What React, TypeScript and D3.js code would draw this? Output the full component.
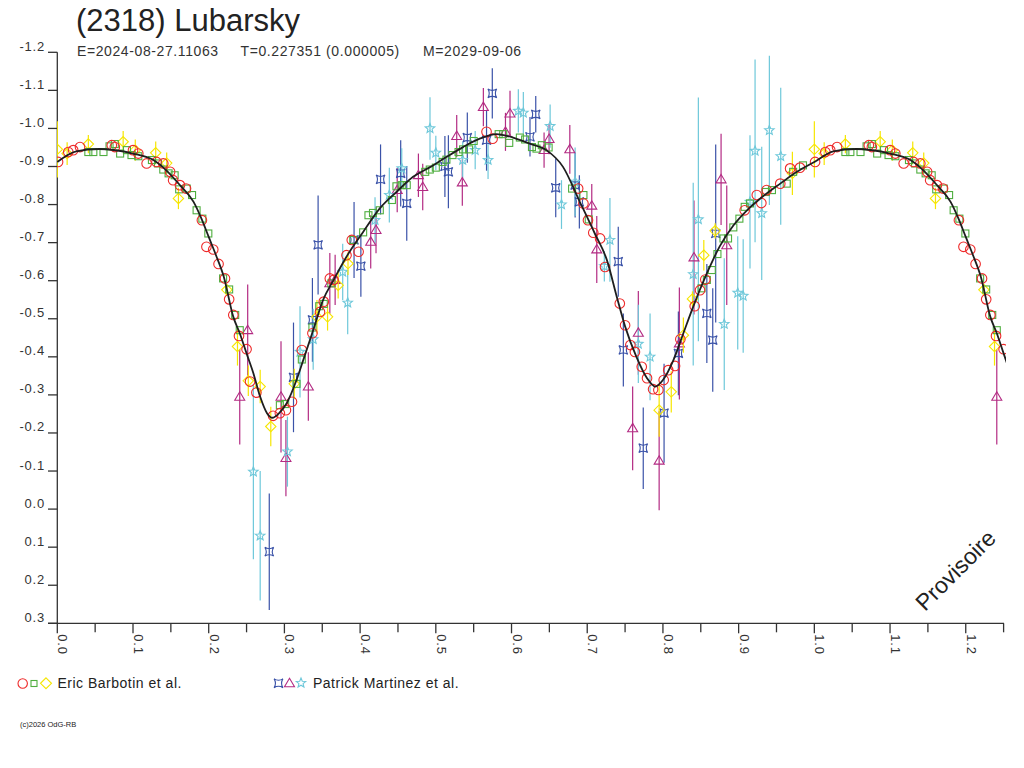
import React from 'react';
import * as d3 from 'd3';

// ---------- data (phase, magnitude[, error]) ----------
const fitCurve: [number, number][] = [
  [0.000,-0.912],[0.025,-0.940],[0.055,-0.946],[0.100,-0.934],[0.127,-0.917],[0.144,-0.890],
  [0.162,-0.851],[0.180,-0.807],[0.190,-0.765],[0.200,-0.715],[0.210,-0.665],[0.220,-0.610],
  [0.2325,-0.505],[0.241,-0.462],[0.250,-0.409],[0.259,-0.357],[0.268,-0.295],[0.277,-0.252],
  [0.284,-0.240],[0.293,-0.252],[0.303,-0.278],[0.316,-0.339],[0.325,-0.392],[0.338,-0.470],
  [0.351,-0.549],[0.365,-0.602],[0.382,-0.663],[0.404,-0.728],[0.426,-0.790],[0.448,-0.833],
  [0.470,-0.873],[0.493,-0.899],[0.514,-0.925],[0.536,-0.951],[0.558,-0.973],[0.580,-0.985],
  [0.602,-0.976],[0.624,-0.960],[0.646,-0.943],[0.668,-0.899],[0.690,-0.808],[0.710,-0.724],
  [0.726,-0.654],[0.739,-0.558],[0.750,-0.480],[0.765,-0.400],[0.779,-0.344],[0.790,-0.322],
  [0.800,-0.339],[0.814,-0.392],[0.827,-0.462],[0.840,-0.532],[0.858,-0.619],[0.875,-0.690],
  [0.893,-0.745],[0.911,-0.785],[0.930,-0.818],[0.955,-0.855],[0.977,-0.886],
];

const barbotinCircles: [number, number][] = [
  [0.001,-0.912],[0.0145,-0.938],[0.021,-0.943],[0.030,-0.951],[0.072,-0.956],[0.076,-0.951],
  [0.100,-0.943],[0.107,-0.934],[0.118,-0.908],[0.131,-0.912],[0.140,-0.908],[0.149,-0.886],
  [0.153,-0.864],[0.162,-0.851],[0.170,-0.842],[0.191,-0.759],[0.197,-0.689],[0.206,-0.682],
  [0.213,-0.644],[0.2215,-0.606],[0.227,-0.551],[0.2325,-0.510],[0.240,-0.455],[0.250,-0.420],
  [0.2546,-0.335],[0.263,-0.306],[0.285,-0.245],[0.294,-0.252],[0.302,-0.260],[0.310,-0.282],
  [0.323,-0.418],[0.337,-0.462],[0.347,-0.518],[0.352,-0.545],[0.360,-0.606],[0.365,-0.602],
  [0.382,-0.667],[0.389,-0.707],[0.398,-0.676],[0.567,-0.991],[0.575,-0.973],[0.688,-0.842],
  [0.695,-0.803],[0.701,-0.759],[0.708,-0.726],[0.717,-0.711],[0.7235,-0.636],[0.743,-0.540],
  [0.750,-0.483],[0.757,-0.431],[0.763,-0.413],[0.772,-0.374],[0.779,-0.344],[0.787,-0.315],
  [0.794,-0.313],[0.801,-0.339],[0.807,-0.365],[0.816,-0.376],[0.823,-0.446],[0.842,-0.533],
  [0.849,-0.575],[0.856,-0.603],[0.908,-0.785],[0.924,-0.825],[0.930,-0.804],[0.937,-0.838],
  [0.955,-0.855],[0.968,-0.895],[0.981,-0.897],
];

const barbotinSquares: [number, number][] = [
  [0.041,-0.938],[0.0476,-0.938],[0.061,-0.938],[0.069,-0.953],[0.076,-0.959],[0.083,-0.934],
  [0.092,-0.943],[0.098,-0.930],[0.107,-0.927],[0.125,-0.917],[0.133,-0.908],[0.140,-0.892],
  [0.147,-0.882],[0.155,-0.877],[0.161,-0.840],[0.171,-0.842],[0.178,-0.825],[0.184,-0.785],
  [0.1916,-0.763],[0.1995,-0.724],[0.219,-0.606],[0.227,-0.577],[0.235,-0.510],[0.241,-0.470],
  [0.294,-0.273],[0.301,-0.276],[0.316,-0.329],[0.323,-0.393],[0.337,-0.477],[0.346,-0.533],
  [0.352,-0.539],[0.362,-0.593],[0.391,-0.707],[0.404,-0.727],[0.411,-0.772],[0.417,-0.778],
  [0.426,-0.785],[0.442,-0.812],[0.448,-0.848],[0.455,-0.851],[0.4616,-0.851],[0.486,-0.886],
  [0.492,-0.892],[0.500,-0.897],[0.509,-0.912],[0.514,-0.918],[0.522,-0.930],[0.530,-0.938],
  [0.536,-0.945],[0.544,-0.945],[0.550,-0.967],[0.583,-0.985],[0.589,-0.985],[0.597,-0.962],
  [0.611,-0.976],[0.618,-0.971],[0.627,-0.951],[0.633,-0.947],[0.640,-0.956],[0.649,-0.950],
  [0.680,-0.842],[0.695,-0.825],[0.702,-0.761],[0.851,-0.580],[0.858,-0.602],[0.8645,-0.628],
  [0.872,-0.670],[0.880,-0.711],[0.886,-0.711],[0.893,-0.740],[0.901,-0.763],[0.908,-0.794],
  [0.915,-0.803],[0.936,-0.833],[0.944,-0.838],[0.9635,-0.855],[0.972,-0.886],[0.985,-0.903],
];

const barbotinDiamonds: [number, number, number][] = [
  [0.000,-0.945,0.074],[0.013,-0.934,0.030],[0.041,-0.959,0.024],[0.087,-0.965,0.028],
  [0.103,-0.943,0.028],[0.130,-0.936,0.030],[0.1445,-0.909,0.028],[0.160,-0.816,0.028],
  [0.224,-0.576,0.015],[0.238,-0.427,0.050],[0.2523,-0.337,0.040],[0.268,-0.322,0.044],
  [0.282,-0.217,0.052],[0.313,-0.329,0.040],[0.343,-0.505,0.044],[0.357,-0.505,0.036],
  [0.371,-0.588,0.035],[0.384,-0.645,0.030],[0.795,-0.260,0.070],[0.811,-0.308,0.054],
  [0.827,-0.457,0.046],[0.839,-0.552,0.020],[0.854,-0.667,0.040],[0.869,-0.731,0.020],
  [0.971,-0.882,0.057],
];

const martinezQuads: [number, number, number][] = [
  [0.280,0.112,0.153],[0.312,-0.346,0.144],[0.337,-0.497,0.110],[0.3445,-0.694,0.130],
  [0.392,-0.707,0.100],[0.401,-0.638,0.080],[0.427,-0.866,0.092],[0.4536,-0.882,0.087],
  [0.4616,-0.803,0.098],[0.512,-0.900,0.080],[0.5166,-0.886,0.096],[0.5416,-0.976,0.066],
  [0.567,-0.969,0.080],[0.5746,-1.092,0.066],[0.6244,-0.978,0.052],[0.632,-1.037,0.048],
  [0.6584,-0.844,0.077],[0.684,-0.851,0.085],[0.6896,-0.807,0.070],[0.741,-0.650,0.092],
  [0.7477,-0.418,0.096],[0.774,-0.160,0.107],[0.8015,-0.252,0.130],[0.8204,-0.409,0.110],
  [0.858,-0.514,0.130],[0.8658,-0.444,0.136],[0.8697,-0.724,0.234],
];

const martinezTriangles: [number, number, number][] = [
  [0.241,-0.295,0.125],[0.2515,-0.470,0.120],[0.2955,-0.295,0.146],[0.302,-0.134,0.100],
  [0.3316,-0.322,0.090],[0.360,-0.593,0.080],[0.367,-0.602,0.066],[0.414,-0.702,0.070],
  [0.421,-0.733,0.061],[0.449,-0.838,0.058],[0.477,-0.877,0.057],[0.4827,-0.846,0.061],
  [0.5276,-0.980,0.055],[0.535,-0.858,0.061],[0.5628,-1.056,0.050],[0.592,-0.991,0.050],
  [0.598,-1.039,0.060],[0.643,-0.943,0.046],[0.6496,-0.972,0.040],[0.677,-0.945,0.064],
  [0.706,-0.797,0.057],[0.7126,-0.682,0.088],[0.760,-0.212,0.110],[0.7675,-0.463,0.110],
  [0.795,-0.127,0.130],[0.8217,-0.435,0.147],[0.841,-0.661,0.150],[0.8768,-0.866,0.120],
  [0.8843,-0.693,0.157],
];

const martinezStars: [number, number, number][] = [
  [0.259,-0.098,0.230],[0.268,0.070,0.170],[0.304,-0.151,0.092],[0.3206,-0.413,0.120],
  [0.338,-0.446,0.080],[0.377,-0.623,0.074],[0.3836,-0.542,0.083],[0.4197,-0.759,0.060],
  [0.4386,-0.825,0.072],[0.455,-0.895,0.053],[0.4923,-1.000,0.082],[0.500,-0.936,0.045],
  [0.5355,-0.917,0.048],[0.552,-0.943,0.050],[0.569,-0.917,0.050],[0.609,-1.046,0.057],
  [0.6156,-1.041,0.055],[0.651,-1.006,0.057],[0.666,-0.800,0.064],[0.684,-0.860,0.090],
  [0.7226,-0.638,0.040],[0.730,-0.707,0.110],[0.7675,-0.434,0.103],[0.783,-0.400,0.114],
  [0.840,-0.617,0.240],[0.8468,-0.761,0.320],[0.881,-0.486,0.173],[0.8988,-0.568,0.149],
  [0.906,-0.560,0.149],[0.915,-0.807,0.175],[0.9217,-0.941,0.240],[0.9305,-0.777,0.175],
  [0.9406,-0.995,0.196],[0.9556,-0.927,0.180],
];

const yTicks: number[] = [-1.2,-1.1,-1.0,-0.9,-0.8,-0.7,-0.6,-0.5,-0.4,-0.3,-0.2,-0.1,0.0,0.1,0.2,0.3];
const xMajorTicks: number[] = [0,0.1,0.2,0.3,0.4,0.5,0.6,0.7,0.8,0.9,1.0,1.1,1.2];
const xMinorTicks: number[] = [0.05,0.15,0.25,0.35,0.45,0.55,0.65,0.75,0.85,0.95,1.05,1.15,1.25];

const title = '(2318) Lubarsky';
const subtitleParts = ['E=2024-08-27.11063', 'T=0.227351 (0.000005)', 'M=2029-09-06'];
const legendLeft = 'Eric Barbotin et al.';
const legendRight = 'Patrick Martinez et al.';
const copyright = '(c)2026 OdG-RB';
const watermark = 'Provisoire';

// ---------- styling ----------
const FONT = '"Liberation Sans", Arial, sans-serif';
const RED = '#ee2a2a';
const GREEN = '#4fae3f';
const YELLOW = '#f6e600';
const BLUE = '#3a52a8';
const MAGENTA = '#b32b83';
const CYAN = '#6ec8da';

const x = d3.scaleLinear().domain([0, 1.25]).range([57.3, 1003.6]);
const y = d3.scaleLinear().domain([-1.2, 0.3]).range([52.3, 623.3]);

function wrap<T extends number[]>(pts: T[]): T[] {
  const out: T[] = [];
  pts.forEach((p) => {
    out.push(p);
    if (p[0] + 1 <= 1.251) out.push([p[0] + 1, ...p.slice(1)] as T);
  });
  return out;
}

function wrapCurve(pts: [number, number][]): [number, number][] {
  const out: [number, number][] = pts.slice();
  pts.forEach((p) => {
    if (p[0] <= 0.26) out.push([p[0] + 1, p[1]]);
  });
  return out.sort((a, b) => a[0] - b[0]);
}

const quadPath = 'M-4.4,-4.4 Q0,-1.6 4.4,-4.4 Q1.6,0 4.4,4.4 Q0,1.6 -4.4,4.4 Q-1.6,0 -4.4,-4.4 Z';
const triPath = 'M0,-5 L5,3.4 L-5,3.4 Z';
const diamondPath = 'M0,-5.2 L5.2,0 L0,5.2 L-5.2,0 Z';
const starPath = (() => {
  const pts: string[] = [];
  for (let i = 0; i < 10; i++) {
    const r = i % 2 === 0 ? 5 : 2.2;
    const a = -Math.PI / 2 + (i * Math.PI) / 5;
    pts.push(`${(r * Math.cos(a)).toFixed(2)},${(r * Math.sin(a)).toFixed(2)}`);
  }
  return 'M' + pts.join('L') + 'Z';
})();

function ErrorBars({ data, color }: { data: [number, number, number][]; color: string }) {
  return (
    <g stroke={color} strokeWidth={1.2}>
      {wrap(data).map((d, i) => (
        <line key={i} x1={x(d[0])} x2={x(d[0])} y1={y(d[1] - d[2])} y2={y(d[1] + d[2])} />
      ))}
    </g>
  );
}

function Markers({ data, color, path }: { data: number[][]; color: string; path: string }) {
  return (
    <g fill="none" stroke={color} strokeWidth={1.1}>
      {wrap(data).map((d, i) => (
        <path key={i} d={path} transform={`translate(${x(d[0])},${y(d[1])})`} />
      ))}
    </g>
  );
}

export default function App() {
  const curvePts = wrapCurve(fitCurve);
  const line = d3
    .line<[number, number]>()
    .x((d) => x(d[0]))
    .y((d) => y(d[1]))
    .curve(d3.curveMonotoneX);
  const fmt = (v: number) => v.toFixed(1);

  return (
    <div style={{ position: 'absolute', left: 0, top: 0 }}>
      <svg width={1024} height={768} style={{ display: 'block', background: '#fff' }} fontFamily={FONT}>
        <defs>
          <clipPath id="plotClip">
            <rect x={57} y={20} width={949} height={620} />
          </clipPath>
        </defs>

        {/* title */}
        <text x={76} y={31} fontSize={31} fill="#222">{title}</text>
        <text x={77} y={56} fontSize={14} fill="#333" letterSpacing={0.6}>{subtitleParts[0]}</text>
        <text x={240.5} y={56} fontSize={14} fill="#333" letterSpacing={0.6}>{subtitleParts[1]}</text>
        <text x={423} y={56} fontSize={14} fill="#333" letterSpacing={0.6}>{subtitleParts[2]}</text>

        {/* axes */}
        <g stroke="#333" strokeWidth={1.3}>
          <line x1={57.3} x2={57.3} y1={y(-1.2)} y2={y(0.3)} />
          <line x1={48} x2={1004} y1={y(0.3)} y2={y(0.3)} />
          {yTicks.map((t) => (
            <line key={'yt' + t} x1={48} x2={57.3} y1={y(t)} y2={y(t)} />
          ))}
          {xMajorTicks.map((t) => (
            <line key={'xt' + t} x1={x(t)} x2={x(t)} y1={y(0.3)} y2={y(0.3) + 10} />
          ))}
          {xMinorTicks.map((t) => (
            <line key={'xm' + t} x1={x(t)} x2={x(t)} y1={y(0.3)} y2={y(0.3) + 9} />
          ))}
        </g>
        <g fontSize={13} fill="#333" letterSpacing={0.8}>
          {yTicks.map((t) => (
            <text key={'yl' + t} x={45} y={y(t) - 1.5} textAnchor="end">{fmt(t)}</text>
          ))}
          {xMajorTicks.map((t) => (
            <text key={'xl' + t} transform={`translate(${x(t) + 1},${y(0.3) + 11}) rotate(90)`} textAnchor="start">
              {fmt(t)}
            </text>
          ))}
        </g>

        {/* data */}
        <g clipPath="url(#plotClip)">
          <ErrorBars data={martinezQuads} color={BLUE} />
          <ErrorBars data={martinezTriangles} color={MAGENTA} />
          <ErrorBars data={martinezStars} color={CYAN} />
          <Markers data={martinezQuads} color={BLUE} path={quadPath} />
          <Markers data={martinezTriangles} color={MAGENTA} path={triPath} />
          <Markers data={martinezStars} color={CYAN} path={starPath} />
          <ErrorBars data={barbotinDiamonds} color={YELLOW} />
          <Markers data={barbotinDiamonds} color={YELLOW} path={diamondPath} />
          <g fill="none" stroke={GREEN} strokeWidth={1.1}>
            {wrap(barbotinSquares).map((d, i) => (
              <rect key={i} x={x(d[0]) - 3.5} y={y(d[1]) - 3.5} width={7} height={7} />
            ))}
          </g>
          <g fill="none" stroke={RED} strokeWidth={1.1}>
            {wrap(barbotinCircles).map((d, i) => (
              <circle key={i} cx={x(d[0])} cy={y(d[1])} r={4.8} />
            ))}
          </g>
          <path d={line(curvePts) || ''} fill="none" stroke="#1e1e1e" strokeWidth={1.8} />
        </g>

        {/* watermark */}
        <text transform="translate(925,612) rotate(-45)" fontSize={23} fill="#222">{watermark}</text>

        {/* legend */}
        <g fill="none" strokeWidth={1.1}>
          <circle cx={22.7} cy={683.5} r={4.7} stroke={RED} />
          <rect x={31} y={680.5} width={6} height={6} stroke={GREEN} />
          <path d={diamondPath} transform="translate(46,683.3) scale(1.05)" stroke={YELLOW} />
          <path d={quadPath} transform="translate(278.5,683.3)" stroke={BLUE} />
          <path d={triPath} transform="translate(289.5,683.3)" stroke={MAGENTA} />
          <path d={starPath} transform="translate(301,683)" stroke={CYAN} />
        </g>
        <text x={57.5} y={687.5} fontSize={14} fill="#222" letterSpacing={0.5}>{legendLeft}</text>
        <text x={313} y={687.5} fontSize={14} fill="#222" letterSpacing={0.5}>{legendRight}</text>

        <text x={20} y={727} fontSize={7.5} fill="#222">{copyright}</text>
      </svg>
    </div>
  );
}
